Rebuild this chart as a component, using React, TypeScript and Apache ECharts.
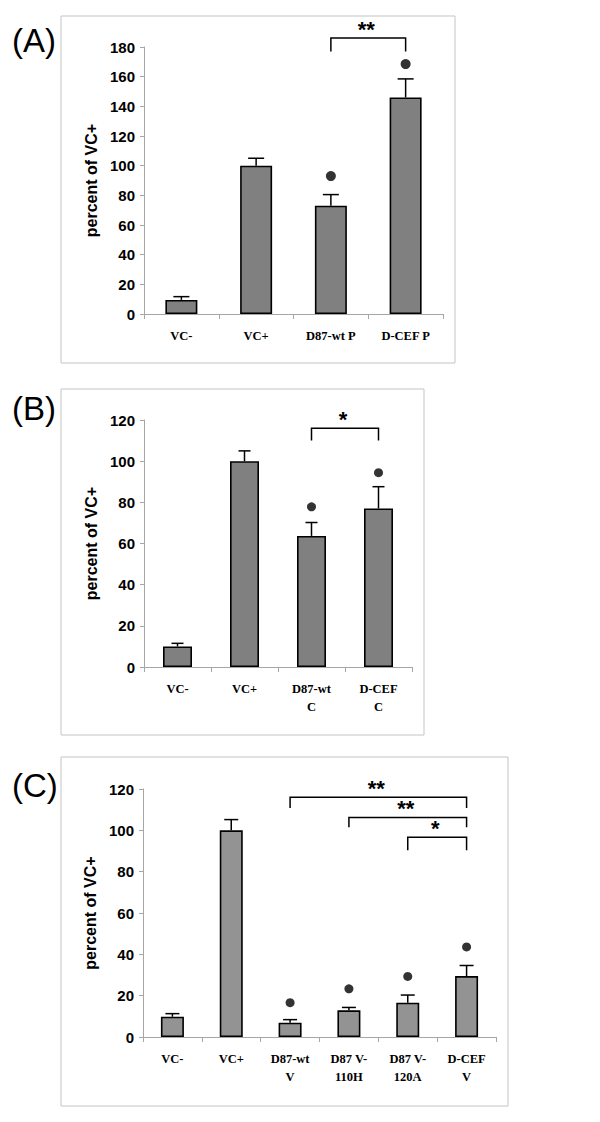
import React, { useEffect, useRef } from "react";
import * as echarts from "echarts";

// ---------- Data ----------
const catsA = ["VC-", "VC+", "D87-wt P", "D-CEF P"];
const valsA = [9.5, 100, 73, 146];
const errA = [11.7, 105, 80.5, 158.5];
const dotsA: [number, number][] = [[2, 93], [3, 168.5]];
const bracketsA = [{ from: 2, to: 3, top: 186, leg: 177, label: "**" }];
const ticksA = { min: 0, max: 180, interval: 20 };

const catsB = ["VC-", "VC+", "D87-wt\nC", "D-CEF\nC"];
const valsB = [10, 100, 63.7, 77];
const errB = [11.5, 105, 70.2, 87.6];
const dotsB: [number, number][] = [[2, 77.8], [3, 94.4]];
const bracketsB = [{ from: 2, to: 3, top: 116, leg: 110, label: "*" }];
const ticksB = { min: 0, max: 120, interval: 20 };

const catsC = ["VC-", "VC+", "D87-wt\nV", "D87 V-\n110H", "D87 V-\n120A", "D-CEF\nV"];
const valsC = [9.8, 100, 6.9, 12.9, 16.6, 29.5];
const errC = [11.3, 105.2, 8.4, 14.3, 20.3, 34.6];
const dotsC: [number, number][] = [[2, 16.6], [3, 23.3], [4, 29.3], [5, 43.6]];
const bracketsC = [
  { from: 2, to: 5, top: 116, leg: 110.8, label: "**" },
  { from: 3, to: 5, top: 106.2, leg: 101.5, label: "**" },
  { from: 4, to: 5, top: 96.6, leg: 90.4, label: "*" },
];
const ticksC = { min: 0, max: 120, interval: 20 };

const yAxisName = "percent of VC+";
const panelLabels = ["(A)", "(B)", "(C)"];

// ---------- Layout / style ----------
const grids = [
  { left: 144, top: 47, width: 299, height: 267 },
  { left: 144, top: 420, width: 268, height: 247 },
  { left: 143, top: 789, width: 353, height: 248 },
];
const frames = [
  { x: 61, y: 16, width: 394, height: 347 },
  { x: 61, y: 389, width: 363, height: 346 },
  { x: 61, y: 757, width: 447, height: 349 },
];
const labelPos = [
  { x: 12, y: 40 },
  { x: 12, y: 408 },
  { x: 12, y: 785 },
];
const barWidths = [32, 29, 23];
const capHalf = [8, 6, 7];
const dotSizes = [10, 9, 9];
const barColors = ["#808080", "#808080", "#939393"];
const AXIS_GRAY = "#a6a6a6";

export default function App() {
  const ref = useRef<HTMLDivElement>(null);

  useEffect(() => {
    document.body.style.margin = "0";
    if (!ref.current) return;
    const chart = echarts.init(ref.current, undefined, { renderer: "svg" });

    const panels = [
      { cats: catsA, vals: valsA, err: errA, dots: dotsA, brackets: bracketsA, ticks: ticksA },
      { cats: catsB, vals: valsB, err: errB, dots: dotsB, brackets: bracketsB, ticks: ticksB },
      { cats: catsC, vals: valsC, err: errC, dots: dotsC, brackets: bracketsC, ticks: ticksC },
    ];

    const xAxis: any[] = [];
    const yAxis: any[] = [];
    const series: any[] = [];

    panels.forEach((p, i) => {
      xAxis.push({
        type: "category",
        gridIndex: i,
        data: p.cats,
        boundaryGap: true,
        axisLine: { lineStyle: { color: AXIS_GRAY, width: 1 } },
        axisTick: { show: true, length: 5, lineStyle: { color: AXIS_GRAY } },
        axisLabel: {
          interval: 0,
          margin: 13,
          color: "#000",
          fontFamily: "Liberation Serif",
          fontWeight: "bold",
          fontSize: 12.5,
          lineHeight: 18,
        },
      });
      yAxis.push({
        type: "value",
        gridIndex: i,
        min: p.ticks.min,
        max: p.ticks.max,
        interval: p.ticks.interval,
        name: yAxisName,
        nameLocation: "middle",
        nameRotate: 90,
        nameGap: 45,
        nameTextStyle: {
          color: "#000",
          fontFamily: "Liberation Sans",
          fontWeight: "bold",
          fontSize: 16,
        },
        axisLine: { show: true, lineStyle: { color: AXIS_GRAY, width: 1 } },
        axisTick: { show: true, length: 4, lineStyle: { color: AXIS_GRAY } },
        splitLine: { show: false },
        axisLabel: {
          margin: 9,
          color: "#000",
          fontFamily: "Liberation Sans",
          fontWeight: "bold",
          fontSize: 15,
        },
      });

      series.push({
        type: "bar",
        xAxisIndex: i,
        yAxisIndex: i,
        data: p.vals,
        barWidth: barWidths[i],
        itemStyle: { color: barColors[i], borderColor: "#000", borderWidth: 1.6 },
        z: 2,
      });

      series.push({
        type: "custom",
        xAxisIndex: i,
        yAxisIndex: i,
        data: p.vals.map((v, k) => [k, v, p.err[k]]),
        encode: { x: 0, y: [1, 2] },
        z: 3,
        renderItem: (params: any, api: any) => {
          const base = api.coord([api.value(0), api.value(1)]);
          const top = api.coord([api.value(0), api.value(2)]);
          const h = capHalf[i];
          const style = { stroke: "#000", lineWidth: 1.5 };
          return {
            type: "group",
            children: [
              { type: "line", shape: { x1: base[0], y1: base[1], x2: top[0], y2: top[1] }, style },
              { type: "line", shape: { x1: top[0] - h, y1: top[1], x2: top[0] + h, y2: top[1] }, style },
            ],
          };
        },
      });

      series.push({
        type: "scatter",
        xAxisIndex: i,
        yAxisIndex: i,
        data: p.dots,
        symbol: "circle",
        symbolSize: dotSizes[i],
        itemStyle: { color: "#000" },
        z: 4,
      });

      series.push({
        type: "custom",
        xAxisIndex: i,
        yAxisIndex: i,
        data: p.brackets.map((b) => [b.from, b.to, b.top, b.leg]),
        encode: { x: [0, 1], y: [2, 3] },
        z: 4,
        clip: false,
        renderItem: (params: any, api: any) => {
          const b = p.brackets[params.dataIndex];
          const a1 = api.coord([api.value(0), api.value(2)]);
          const a2 = api.coord([api.value(1), api.value(2)]);
          const l1 = api.coord([api.value(0), api.value(3)]);
          const l2 = api.coord([api.value(1), api.value(3)]);
          return {
            type: "group",
            children: [
              {
                type: "polyline",
                shape: { points: [[l1[0], l1[1]], [a1[0], a1[1]], [a2[0], a2[1]], [l2[0], l2[1]]] },
                style: { stroke: "#000", lineWidth: 1.5, fill: "none" },
              },
              {
                type: "text",
                x: (a1[0] + a2[0]) / 2 - 2,
                y: a1[1] + 2,
                style: {
                  text: b.label,
                  fill: "#000",
                  font: "bold 22px 'Liberation Sans'",
                  textAlign: "center",
                  textVerticalAlign: "bottom",
                },
              },
            ],
          };
        },
      });
    });

    const graphic: any[] = [];
    frames.forEach((f) => {
      graphic.push({
        type: "rect",
        shape: { x: f.x, y: f.y, width: f.width, height: f.height },
        style: { fill: "none", stroke: "#c4c4c4", lineWidth: 1 },
        z: -1,
      });
    });
    panelLabels.forEach((t, i) => {
      graphic.push({
        type: "text",
        x: labelPos[i].x,
        y: labelPos[i].y,
        style: {
          text: t,
          fill: "#000",
          font: "33px 'Liberation Sans'",
          textAlign: "left",
          textVerticalAlign: "middle",
        },
      });
    });

    chart.setOption({
      animation: false,
      backgroundColor: "#fff",
      grid: grids.map((g) => ({ ...g, containLabel: false })),
      xAxis,
      yAxis,
      series,
      graphic,
    });

    return () => chart.dispose();
  }, []);

  return <div ref={ref} style={{ width: 600, height: 1122 }} />;
}
